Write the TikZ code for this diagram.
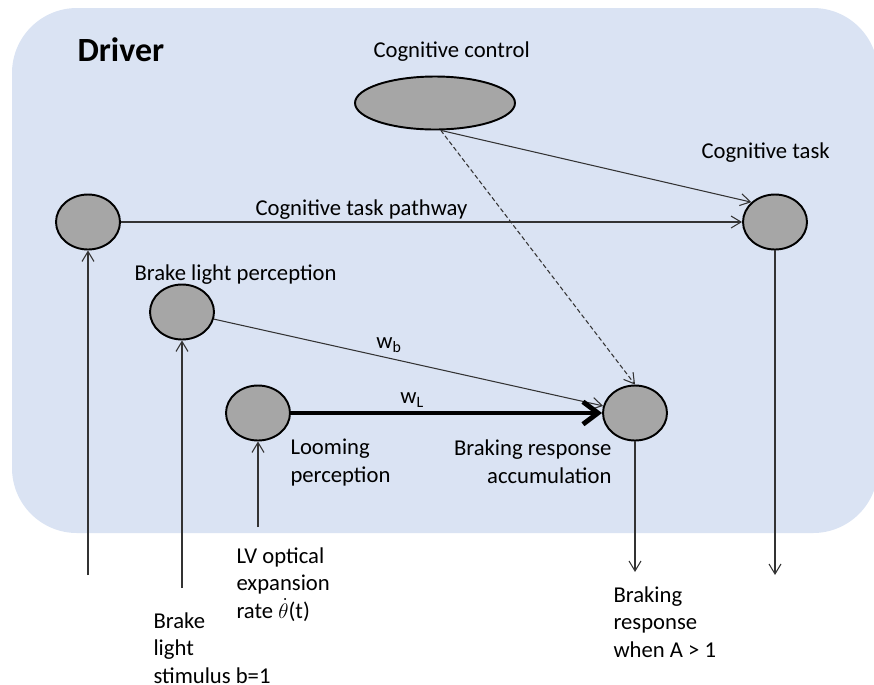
\documentclass[tikz,border=0pt]{standalone}
\usepackage{fontspec}
\setmainfont{Carlito}
\usepackage{tikz}
\usetikzlibrary{positioning,arrows.meta,shapes.geometric}

\definecolor{driverblue}{RGB}{218,227,243}
\definecolor{unitgray}{RGB}{166,166,166}

\begin{document}
\begin{tikzpicture}[x=0.02cm,y=-0.02cm,->,>={Straight Barb[length=0.2cm,width=0.24cm]},line width=0.6pt]

  \tikzstyle{unit}=[ellipse,draw=black,fill=unitgray,line width=1.1pt,minimum width=1.28cm,minimum height=1.1cm,inner sep=0pt]
  \tikzstyle{lbl}=[inner sep=0pt,align=left,font=\fontsize{12.9}{15.6}\selectfont]
  \tikzstyle{link}=[draw=black!80]

  \useasboundingbox (0,0) rectangle (874,684);

  % driver box
  \fill[driverblue,rounded corners=1.3cm,-] (12,8) rectangle (878,533);
  \node[lbl,font=\fontsize{19.3}{23}\selectfont\bfseries,anchor=base west] (driver) at (77,61) {Driver};

  % units
  \node[unit,minimum width=3.2cm,minimum height=1.06cm] (cogctrl) at (435,103) {};
  \node[unit] (pathway) at (88,222) {};
  \node[unit] (cogtask) at (775,222) {};
  \node[unit] (brakeperc) at (182,312) {};
  \node[unit] (looming) at (258,413) {};
  \node[unit] (braking) at (635,413) {};

  % labels (base = last line)
  \node[lbl,anchor=base west] (cogctrllbl) at (373,57) {Cognitive control};
  \node[lbl,anchor=base west] (cogtasklbl) at (701,158) {Cognitive task};
  \node[lbl,anchor=base west] (pathwaylbl) at (255,215) {Cognitive task pathway};
  \node[lbl,anchor=base west] (brakeperclbl) at (134,280) {Brake light perception};
  \node[lbl,anchor=base west] (loominglbl) at (290,482) {Looming\\perception};
  \node[lbl,align=right,anchor=base east] (brakinglbl) at (612,483) {Braking response\\accumulation};

  % inputs and outputs
  \coordinate (pathwayin) at (88,575);
  \coordinate (brakein) at (182,588);
  \coordinate (loomin) at (258,527);
  \coordinate (brakingout) at (635,572);
  \coordinate (taskout) at (775,575);
  \node[lbl,anchor=base west] (loominlbl) at (236,618) {LV optical\\expansion\\rate $\dot{\theta}$(t)};
  \node[lbl,anchor=base west] (brakeinlbl) at (153,683) {Brake\\light\\stimulus b=1};
  \node[lbl,anchor=base west] (brakingoutlbl) at (613,657) {Braking\\response\\when A > 1};

  % connections
  \draw[link] (pathway) -- (cogtask);
  \draw[link] (cogctrl.-78) -- (cogtask.140);
  \draw[link,dash pattern=on 2.5pt off 1.5pt] (cogctrl.-78) -- (braking.north);
  \draw[link] (brakeperc) -- node[lbl,above=3pt,pos=0.45] {w\textsubscript{b}} (braking);
  \draw[line width=2.8pt,-{Straight Barb[length=0.3cm,width=0.45cm]}] (looming) -- node[lbl,above=2pt,pos=0.39] {w\textsubscript{L}} (braking);

  \draw[link] (pathwayin) -- (pathway);
  \draw[link] (brakein) -- (brakeperc);
  \draw[link] (loomin) -- (looming);
  \draw[link] (braking) -- (brakingout);
  \draw[link] (cogtask) -- (taskout);

\end{tikzpicture}
\end{document}
